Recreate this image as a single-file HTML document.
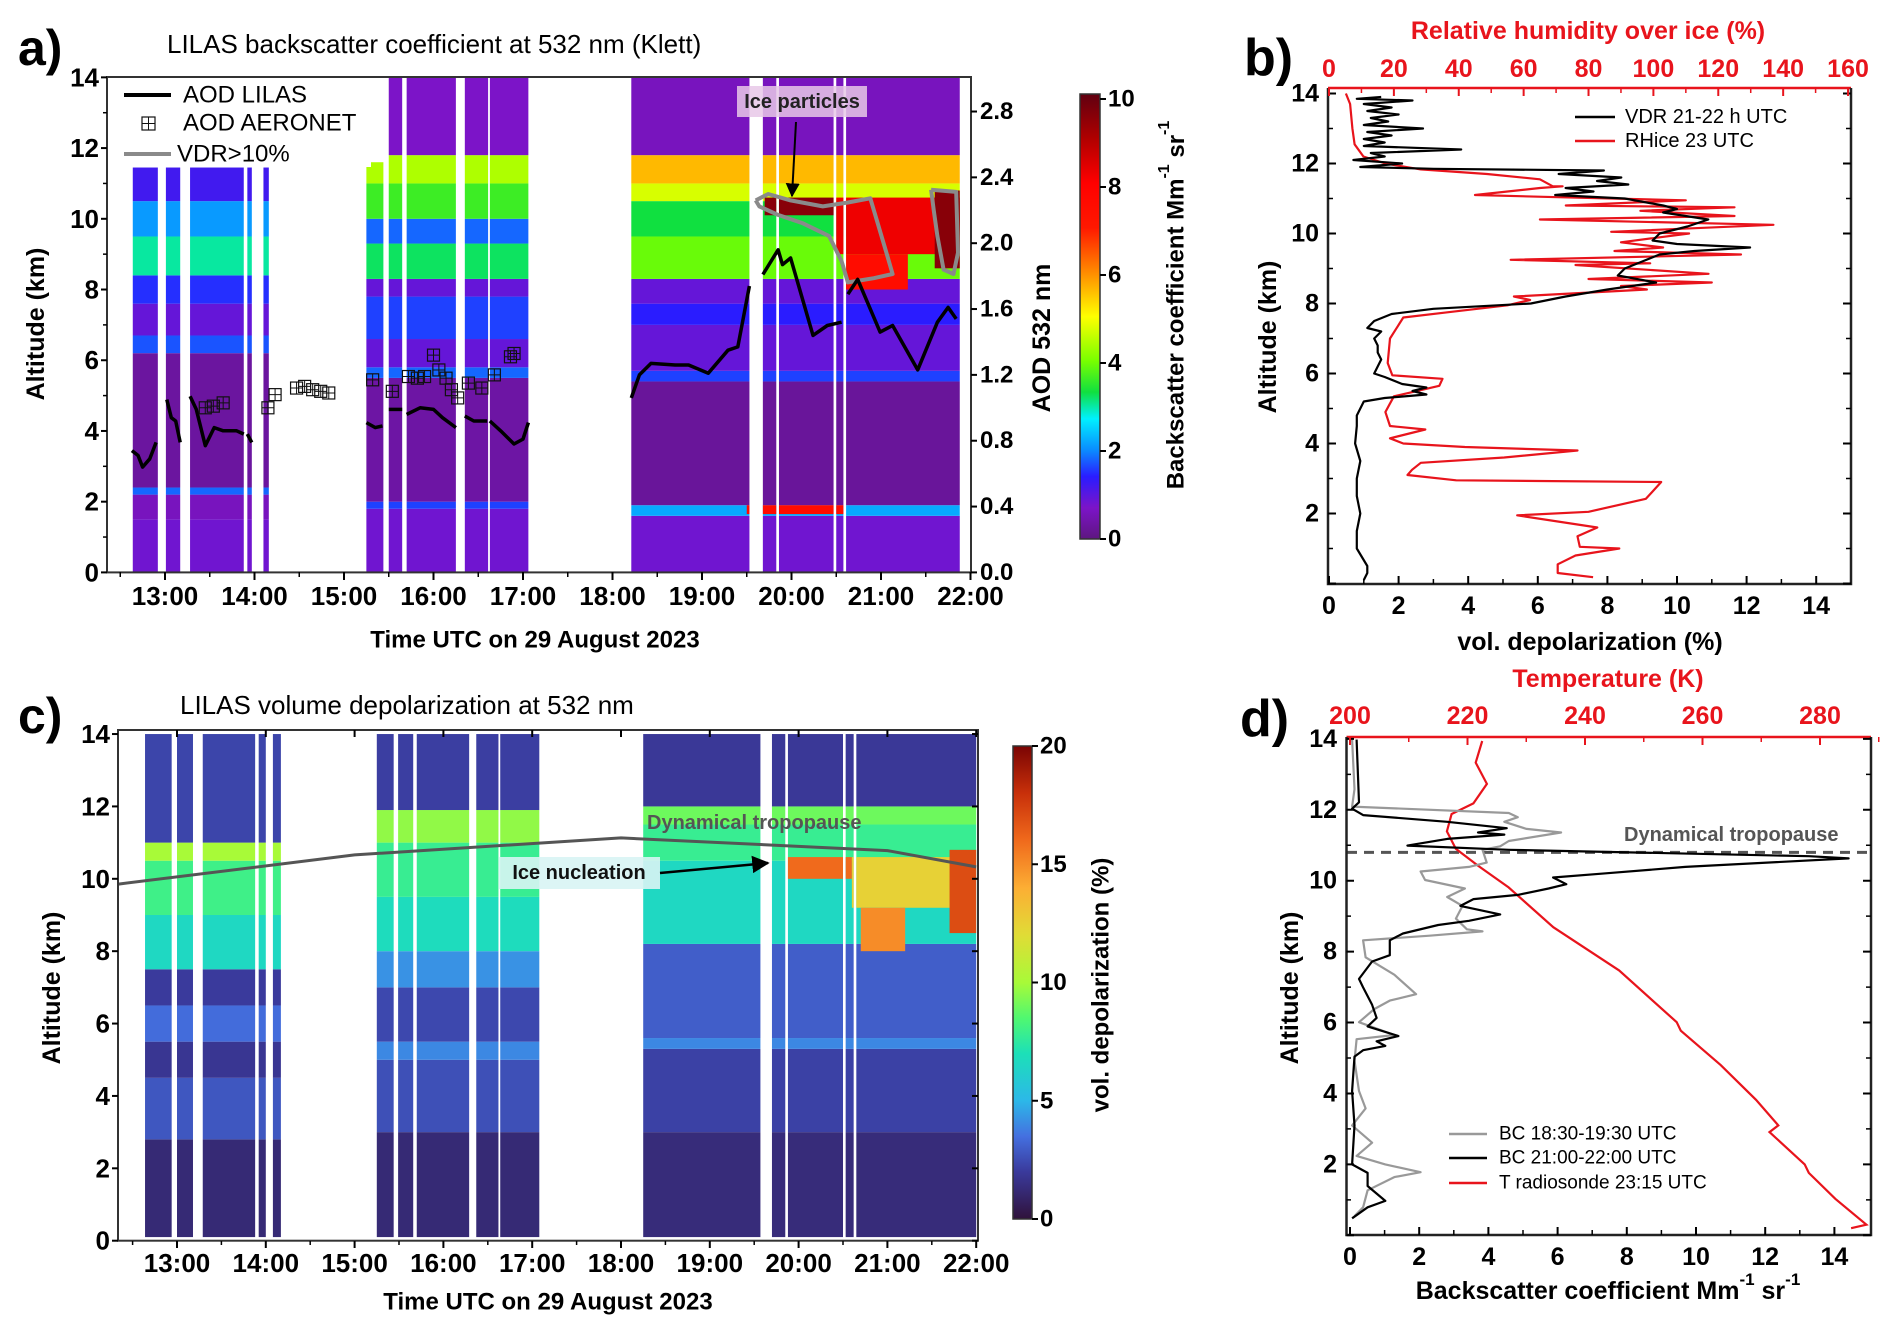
<!DOCTYPE html>
<html><head><meta charset="utf-8"><title>LILAS figure</title>
<style>
html,body{margin:0;padding:0;background:#fff;}
svg{display:block;font-family:"Liberation Sans",Arial,sans-serif;}
</style></head>
<body>
<svg id="fig" width="1892" height="1336" viewBox="0 0 1892 1336" xmlns="http://www.w3.org/2000/svg">
<defs>
<linearGradient id="cmapA" x1="0" y1="1" x2="0" y2="0"></linearGradient>
<linearGradient id="cmapC" x1="0" y1="1" x2="0" y2="0"></linearGradient>
<marker id="arrow" viewBox="0 0 10 10" refX="9" refY="5" markerWidth="7" markerHeight="7" orient="auto"><path d="M0,0 L10,5 L0,10 z" fill="#000"/></marker>
</defs>
</svg>
<script>
// ================= DATA =================
const cmapAStops = [[0,'#5e1680'],[0.7,'#7c14c8'],[1.4,'#2a1cff'],[2,'#0a8cff'],[2.7,'#00f0ff'],[3.3,'#10e040'],[4,'#78ff00'],[5,'#ffff00'],[6,'#ff8a00'],[7,'#ff1800'],[8,'#ff0000'],[9,'#b00000'],[10,'#600010']];
const cmapCStops = [[0,'#30123b'],[2,'#3a3a9c'],[3.5,'#4470e0'],[5,'#2cb8e8'],[7,'#1ce0b8'],[8.5,'#50f870'],[10,'#a8fa38'],[12,'#e0dc36'],[14,'#fcae34'],[16,'#f06a1c'],[18,'#c8300a'],[20,'#7a0403']];

const segmentsA = [[12.64,12.92,11.45],[13.01,13.17,11.45],[13.28,13.88,11.45],[13.92,13.97,11.45],[14.10,14.16,11.45],[15.25,15.44,11.6],[15.50,15.65,14],[15.70,16.25,14],[16.35,16.61,14],[16.63,17.06,14],[18.21,19.53,14],[19.68,19.83,14],[19.86,20.47,14],[20.50,20.58,14],[20.61,21.88,14]];
const segmentsC = [[12.64,12.94,14],[13.0,13.18,14],[13.29,13.88,14],[13.92,14.0,14],[14.08,14.17,14],[15.25,15.44,14],[15.49,15.66,14],[15.70,16.29,14],[16.37,16.62,14],[16.64,17.08,14],[18.25,19.57,14],[19.70,19.85,14],[19.88,20.50,14],[20.53,20.62,14],[20.65,22.0,14]];
const periodIdx = [0,0,0,0,0,1,1,1,1,1,2,2,2,2,2];

const layersA_early = [[0,1.5,0.8],[1.5,2.2,0.6],[2.2,2.4,1.8],[2.4,6.2,0.3],[6.2,6.7,1.7],[6.7,7.6,0.9],[7.6,8.4,1.5],[8.4,9.5,3.0],[9.5,10.5,2.1],[10.5,11.5,1.2]];
const layersA_mid = [[0,1.8,0.8],[1.8,2.0,1.6],[2.0,5.5,0.35],[5.5,5.8,1.8],[5.8,6.6,0.9],[6.6,7.8,1.6],[7.8,8.3,0.9],[8.3,9.3,3.2],[9.3,10.0,1.8],[10.0,11.0,3.6],[11.0,11.8,4.4],[11.8,14,0.7]];
const layersA_late = [[0,1.6,0.8],[1.6,1.9,2.2],[1.9,5.4,0.25],[5.4,5.7,1.6],[5.7,7.0,0.9],[7.0,7.6,1.4],[7.6,8.3,0.9],[8.3,9.5,3.9],[9.5,10.5,3.3],[10.5,11.0,4.7],[11.0,11.8,5.6],[11.8,14,0.6]];
const iceA = [[19.7,20.5,10.1,10.6,9.5],[20.5,21.9,9.0,10.6,8.2],[20.6,21.3,8.0,9.0,7.5],[21.6,21.9,8.6,10.8,9.5],[19.5,20.6,1.65,1.9,7.5]];

const layersC_early = [[0,2.8,1.2],[2.8,4.5,2.8],[4.5,5.5,1.8],[5.5,6.5,3.4],[6.5,7.5,2.0],[7.5,9.0,6.6],[9.0,10.5,8.0],[10.5,11.0,10.0],[11.0,14,2.3]];
const layersC_mid = [[0,3.0,1.2],[3.0,5.0,2.6],[5.0,5.5,4.0],[5.5,7.0,2.4],[7.0,8.0,4.2],[8.0,9.5,6.8],[9.5,11.0,7.8],[11.0,11.9,9.6],[11.9,14,2.1]];
const layersC_late = [[0,3.0,1.3],[3.0,5.3,2.2],[5.3,5.6,4.0],[5.6,8.2,3.0],[8.2,10.5,6.6],[10.5,11.5,7.8],[11.5,12.0,9.0],[12.0,14,1.9]];
const iceC = [[19.85,20.6,10.0,10.6,16],[20.6,21.9,9.2,10.6,12.5],[20.7,21.2,8.0,9.2,15],[21.7,22.0,8.5,10.8,17]];

const aodLilas = [
 [[12.63,0.74],[12.70,0.71],[12.75,0.64],[12.83,0.69],[12.90,0.79]],
 [[13.02,1.05],[13.07,0.94],[13.12,0.92],[13.17,0.79]],
 [[13.28,1.07],[13.35,0.99],[13.45,0.77],[13.55,0.88],[13.65,0.86],[13.80,0.86],[13.88,0.84]],
 [[13.92,0.84],[13.97,0.79]],
 [[15.25,0.91],[15.35,0.88],[15.43,0.89]],
 [[15.50,0.99],[15.65,0.99]],
 [[15.70,0.96],[15.85,1.00],[16.00,0.99],[16.10,0.94],[16.25,0.88]],
 [[16.35,0.95],[16.45,0.92],[16.60,0.92]],
 [[16.63,0.92],[16.75,0.86],[16.90,0.78],[17.00,0.81],[17.06,0.91]],
 [[18.21,1.06],[18.30,1.20],[18.43,1.27],[18.70,1.26],[18.85,1.26],[19.07,1.21],[19.29,1.35],[19.40,1.37],[19.53,1.74]],
 [[19.68,1.81],[19.85,1.96],[19.90,1.87],[19.99,1.91],[20.24,1.44],[20.40,1.50],[20.56,1.52]],
 [[20.63,1.69],[20.74,1.78],[20.99,1.46],[21.13,1.50],[21.41,1.23],[21.63,1.52],[21.75,1.61],[21.84,1.54]]
];
const aeronetTime = [13.45,13.54,13.65,14.15,14.23,14.47,14.56,14.65,14.74,14.83,15.32,15.54,15.72,15.82,15.90,16.00,16.06,16.14,16.20,16.27,16.39,16.54,16.68,16.86,16.90];
const aeronetAOD  = [1.00,1.01,1.03,1.00,1.08,1.12,1.13,1.11,1.10,1.09,1.17,1.10,1.19,1.18,1.19,1.32,1.23,1.18,1.11,1.06,1.15,1.12,1.20,1.31,1.33];
const vdrContour1 = [[19.60,10.52],[19.74,10.70],[19.99,10.52],[20.35,10.35],[20.63,10.46],[20.88,10.58],[20.95,9.99],[21.06,9.04],[21.13,8.44],[20.92,8.32],[20.63,8.20],[20.56,8.80],[20.42,9.51],[20.13,9.87],[19.85,10.11],[19.64,10.35],[19.60,10.52]];
const vdrContour2 = [[21.56,10.82],[21.84,10.76],[21.86,9.04],[21.81,8.44],[21.70,8.56],[21.63,9.51],[21.59,10.23],[21.56,10.82]];
const tropoC = [[12.33,9.85],[15.0,10.66],[18.0,11.13],[21.0,10.78],[22.0,10.33]];

const vdrB = [[13.9,1.5],[13.85,0.8],[13.8,2.4],[13.7,1.0],[13.6,1.8],[13.5,1.1],[13.4,2.0],[13.3,1.2],[13.2,1.7],[13.1,1.0],[13.0,2.7],[12.9,1.1],[12.8,1.8],[12.7,1.0],[12.6,1.6],[12.5,1.0],[12.4,3.8],[12.3,1.2],[12.2,1.6],[12.1,0.7],[12.0,2.1],[11.9,0.9],[11.85,3.0],[11.8,7.9],[11.7,6.6],[11.6,8.4],[11.5,7.7],[11.4,8.6],[11.3,6.8],[11.2,7.6],[11.1,6.5],[11.0,8.5],[10.8,9.6],[10.7,10.0],[10.6,9.6],[10.4,10.9],[10.2,10.3],[10.0,9.5],[9.8,9.3],[9.7,10.0],[9.6,12.1],[9.5,10.5],[9.4,9.5],[9.2,9.0],[9.0,8.5],[8.8,8.3],[8.6,9.4],[8.4,8.0],[8.2,6.8],[8.0,5.8],[7.85,3.0],[7.7,1.8],[7.5,1.3],[7.3,1.1],[7.2,1.5],[7.0,1.3],[6.8,1.4],[6.6,1.4],[6.4,1.5],[6.2,1.4],[6.0,1.3],[5.9,1.6],[5.7,2.1],[5.6,2.8],[5.5,2.4],[5.4,2.8],[5.3,1.6],[5.2,1.0],[5.0,0.9],[4.8,0.8],[4.5,0.8],[4.0,0.75],[3.5,0.9],[3.0,0.8],[2.5,0.8],[2.0,0.9],[1.5,0.8],[1.0,0.8],[0.5,1.1],[0.3,1.1],[0.1,1.0]];
const rhB = [[14.0,5.2],[13.7,6.5],[13.0,7.2],[12.55,7.9],[12.2,10.6],[12.0,17.4],[11.83,28.3],[11.7,48.7],[11.55,65],[11.35,69],[11.35,72],[11.3,65],[11.1,45],[11.05,66],[10.95,110],[10.8,73],[10.75,125],[10.65,96],[10.5,125],[10.4,65],[10.25,137],[10.05,87],[10.0,111],[9.75,90],[9.6,103],[9.5,88],[9.4,127],[9.25,56],[9.15,99],[9.1,76],[8.85,117],[8.7,80],[8.6,118],[8.5,90],[8.4,98],[8.2,57],[8.1,62],[7.95,55],[7.75,36.5],[7.6,22.9],[7.0,18.8],[6.3,18.1],[5.95,19.5],[5.85,35],[5.65,34],[5.35,20],[4.9,17.4],[4.5,18.8],[4.4,29.7],[4.15,18.8],[4.0,22.9],[3.9,41.9],[3.8,76.6],[3.6,54],[3.45,28.3],[3.25,25.6],[3.1,24.2],[2.95,39.2],[2.9,102.4],[2.42,97.7],[2.05,80],[1.95,58],[1.6,82.7],[1.35,76.6],[1.05,77.3],[1.0,89.5],[0.8,76],[0.55,70.5],[0.3,70.5],[0.18,81.4]];
const bcGray = [[0.06,13.98],[0.13,12.58],[0.06,12.09],[4.59,11.91],[4.85,11.79],[4.46,11.66],[5.10,11.46],[6.10,11.36],[4.59,11.12],[4.34,10.97],[3.83,10.87],[3.95,10.51],[3.44,10.39],[2.04,10.26],[2.17,10.02],[3.32,9.78],[2.81,9.54],[3.25,9.29],[3.06,8.93],[3.38,8.63],[3.83,8.57],[2.30,8.45],[0.38,8.32],[0.45,7.84],[1.28,7.35],[1.91,6.80],[1.15,6.62],[0.70,6.38],[0.26,6.01],[1.28,5.65],[0.19,5.53],[0.13,4.92],[0.26,4.07],[0.45,3.58],[0.06,3.10],[0.64,2.61],[0.19,2.24],[1.02,2.00],[2.04,1.78],[1.28,1.64],[0.51,1.27],[0.38,0.79],[0.13,0.54]];
const bcBlack = [[0.19,13.98],[0.26,12.21],[0.06,12.03],[0.38,11.85],[2.81,11.66],[4.53,11.48],[3.70,11.36],[4.46,11.30],[2.81,11.18],[1.66,10.99],[4.59,10.87],[13.27,10.69],[14.41,10.63],[9.69,10.39],[7.40,10.21],[5.87,10.09],[6.25,9.90],[5.74,9.78],[4.85,9.60],[3.57,9.48],[3.19,9.29],[4.34,9.05],[3.44,8.87],[2.55,8.75],[1.53,8.51],[1.15,8.32],[1.15,7.90],[0.64,7.72],[0.26,7.23],[0.38,6.99],[0.64,6.50],[0.77,6.13],[0.51,5.89],[1.40,5.62],[0.77,5.47],[1.02,5.34],[0.38,5.22],[0.13,5.04],[0.06,4.07],[0.13,3.10],[0.06,2.00],[0.51,1.76],[0.51,1.39],[1.02,0.97],[0.51,0.79],[0.06,0.48]];
const tempD = [[222.5,13.94],[221.4,13.33],[223.3,12.73],[221.0,12.18],[217.3,11.88],[216.5,11.39],[218.0,10.90],[221.8,10.42],[227.0,9.81],[234.6,8.69],[245.8,7.47],[255.6,6.01],[256.3,5.77],[263.1,4.80],[269.1,3.82],[272.9,3.10],[271.4,2.91],[277.4,2.00],[278.1,1.76],[282.6,1.03],[287.9,0.30],[285.3,0.20]];
const tropoD = 10.8;

const altTicks = [0,2,4,6,8,10,12,14];
const timeTicks = [13,14,15,16,17,18,19,20,21,22];
const aodTicks = [0,0.4,0.8,1.2,1.6,2.0,2.4,2.8];
const cbATicks = [0,2,4,6,8,10];
const cbCTicks = [0,5,10,15,20];
const depolTicks = [0,2,4,6,8,10,12,14];
const rhTicks = [0,20,40,60,80,100,120,140,160];
const bcTicks = [0,2,4,6,8,10,12,14];
const tTicks = [200,220,240,260,280];

// ================= AXES =================
const xa = h => 165 + (h-13)*89.5, ya = a => 572.4 - a*35.36, yaod = v => 572.4 - v*164.6;
const xc = h => 177 + (h-13)*88.8, yc = a => 1240.7 - a*36.19;
const xb = d => 1329 + d*34.8, xrh = r => 1329 + r*3.244, yb = a => 583.5 - a*35.0;
const xd = v => 1350 + v*34.6, xT = t => 1350 + (t-200)*5.875, yd = a => 1235.3 - a*35.46;
const cbAy = v => 539 - v*44.0, cbCy = v => 1219 - v*23.65;

const NS = 'http://www.w3.org/2000/svg';
const svg = document.getElementById('fig');
function mk(tag, attrs, parent){ const e = document.createElementNS(NS, tag); for (const k in attrs) e.setAttribute(k, attrs[k]); (parent||svg).appendChild(e); return e; }
function txt(s, x, y, opt, parent){ const e = mk('text', Object.assign({x:x, y:y, 'dominant-baseline':'central'}, opt||{}), parent); e.textContent = s; return e; }
function hex2rgb(h){ return [parseInt(h.substr(1,2),16),parseInt(h.substr(3,2),16),parseInt(h.substr(5,2),16)]; }
function cmap(stops, v){ if (v<=stops[0][0]) return stops[0][1]; for (let i=1;i<stops.length;i++){ if (v<=stops[i][0]){ const t=(v-stops[i-1][0])/(stops[i][0]-stops[i-1][0]); const a=hex2rgb(stops[i-1][1]), b=hex2rgb(stops[i][1]); return 'rgb('+a.map((c,j)=>Math.round(c+(b[j]-c)*t)).join(',')+')'; } } return stops[stops.length-1][1]; }
function pathFrom(pts){ return pts.map((p,i)=>(i?'L':'M')+p[0].toFixed(1)+','+p[1].toFixed(1)).join(' '); }

[['cmapA',cmapAStops,10],['cmapC',cmapCStops,20]].forEach(g=>{ const lg=document.getElementById(g[0]); g[1].forEach(s=>{ const st=document.createElementNS(NS,'stop'); st.setAttribute('offset',(s[0]/g[2]*100)+'%'); st.setAttribute('stop-color',s[1]); lg.appendChild(st); }); });

// ================= PANEL A =================
const gA = mk('g', {});  
const heatA = mk('g', {}, gA);  
const layersA = [layersA_early, layersA_mid, layersA_late];
segmentsA.forEach((s,i)=>{ layersA[periodIdx[i]].forEach(L=>{ if (L[0] >= s[2]) return; const top=Math.min(L[1],s[2]);
  const r = mk('rect',{x:xa(s[0]),y:ya(top),width:xa(s[1])-xa(s[0]),height:ya(L[0])-ya(top),fill:cmap(cmapAStops,L[2])},heatA);
    }); });
iceA.forEach(c=>{ segmentsA.forEach(s=>{ const t0=Math.max(c[0],s[0]), t1=Math.min(c[1],s[1]); if (t1<=t0) return;
  const r = mk('rect',{x:xa(t0),y:ya(c[3]),width:xa(t1)-xa(t0),height:ya(c[2])-ya(c[3]),fill:cmap(cmapAStops,c[4])},heatA);
    }); });
[vdrContour1,vdrContour2].forEach(c=>{ const p = mk('path',{d:pathFrom(c.map(q=>[xa(q[0]),ya(q[1])])),fill:'none',stroke:'#8a8a8a','stroke-width':4,'stroke-linejoin':'round'},gA);
    });
aodLilas.forEach(seg=>{ const p = mk('path',{d:pathFrom(seg.map(q=>[xa(q[0]),yaod(q[1])])),fill:'none',stroke:'#000','stroke-width':3.5,'stroke-linejoin':'round'},gA);
    });
aeronetTime.forEach((t,i)=>{ const x=xa(t), y=yaod(aeronetAOD[i]); const g=mk('g',{},gA);
   
  mk('rect',{x:x-6,y:y-6,width:12,height:12,fill:'none',stroke:'#111','stroke-width':1.2},g);
  mk('path',{d:`M${x-6},${y}H${x+6}M${x},${y-6}V${y+6}`,stroke:'#111','stroke-width':1},g); });
const legA = mk('g',{},gA);  
mk('rect',{x:108,y:78,width:263,height:89,fill:'#fff'},legA);
mk('path',{d:'M124,95H171',stroke:'#000','stroke-width':4},legA); txt('AOD LILAS',183,95,{'font-size':24},legA);
mk('rect',{x:142,y:117,width:13,height:13,fill:'none',stroke:'#111','stroke-width':1.2},legA); mk('path',{d:'M142,123.5H155M148.5,117V130',stroke:'#111','stroke-width':1},legA);
txt('AOD AERONET',183,123,{'font-size':24},legA);
mk('path',{d:'M124,154H171',stroke:'#8a8a8a','stroke-width':4},legA); txt('VDR>10%',177,154,{'font-size':24},legA);
const ipl = mk('g',{},gA);  
mk('rect',{x:737,y:86,width:130,height:31,fill:'#e8c8e8','fill-opacity':0.85},ipl);
txt('Ice particles',802,102,{'font-size':20,'font-weight':'bold','text-anchor':'middle',fill:'#222'},ipl);
mk('path',{d:'M796,122 L792,196',stroke:'#000','stroke-width':2,'marker-end':'url(#arrow)'},ipl);
mk('rect',{x:107,y:77,width:864,height:495.4,fill:'none',stroke:'#333','stroke-width':2},gA);
altTicks.forEach(a=>{ mk('path',{d:`M101,${ya(a)}H107`,stroke:'#000','stroke-width':2},gA); const t=txt(String(a),99,ya(a),{'font-size':26,'font-weight':'bold','text-anchor':'end'},gA);  
  if (a<14) mk('path',{d:`M103,${ya(a+1)}H107`,stroke:'#000','stroke-width':1.5},gA); });
timeTicks.forEach(h=>{ mk('path',{d:`M${xa(h)},572V580`,stroke:'#000','stroke-width':2},gA); mk('path',{d:`M${xa(h-0.5)},572V577`,stroke:'#000','stroke-width':1.5},gA);
  const t=txt((h)+':00',xa(h),596,{'font-size':26,'font-weight':'bold','text-anchor':'middle'},gA);   });
aodTicks.forEach(v=>{ mk('path',{d:`M971,${yaod(v)}H977`,stroke:'#000','stroke-width':2},gA); const t=txt(v.toFixed(1),980,yaod(v),{'font-size':24,'font-weight':'bold'},gA);   });
let t;
t=txt('a)',18,48,{'font-size':50,'font-weight':'bold'});  
t=txt('LILAS backscatter coefficient at 532 nm (Klett)',167,44,{'font-size':26});  
t=txt('Time UTC on 29 August 2023',535,640,{'font-size':24,'font-weight':'bold','text-anchor':'middle'});  
t=txt('Altitude (km)',0,0,{'font-size':25,'font-weight':'bold','text-anchor':'middle',transform:'translate(36,324) rotate(-90)'});  
t=txt('AOD 532 nm',0,0,{'font-size':25,'font-weight':'bold','text-anchor':'middle',transform:'translate(1042,338) rotate(-90)'});  
const cbA = mk('g',{});  
mk('rect',{x:1080,y:94,width:20,height:445,fill:'url(#cmapA)',stroke:'#333','stroke-width':1.5},cbA);
cbATicks.forEach(v=>{ mk('path',{d:`M1100,${cbAy(v)}H1106`,stroke:'#000','stroke-width':2},cbA); txt(String(v),1108,cbAy(v),{'font-size':24,'font-weight':'bold'},cbA); });
t=mk('text',{'font-size':24,'font-weight':'bold','text-anchor':'middle','dominant-baseline':'central',transform:'translate(1176,305) rotate(-90)'},cbA);
t.innerHTML='Backscatter coefficient Mm<tspan font-size="16" dy="-12">-1</tspan><tspan dy="12"> sr</tspan><tspan font-size="16" dy="-12">-1</tspan>';
 

// ================= PANEL C =================
const gC = mk('g',{});  
const heatC = mk('g',{},gC);  
const layersC = [layersC_early, layersC_mid, layersC_late];
segmentsC.forEach((s,i)=>{ layersC[periodIdx[i]].forEach(L=>{ const bot=Math.max(L[0],0.1);
  const r = mk('rect',{x:xc(s[0]),y:yc(L[1]),width:xc(s[1])-xc(s[0]),height:yc(bot)-yc(L[1]),fill:cmap(cmapCStops,L[2])},heatC);
    }); });
iceC.forEach(c=>{ segmentsC.forEach(s=>{ const t0=Math.max(c[0],s[0]), t1=Math.min(c[1],s[1]); if (t1<=t0) return;
  const r = mk('rect',{x:xc(t0),y:yc(c[3]),width:xc(t1)-xc(t0),height:yc(c[2])-yc(c[3]),fill:cmap(cmapCStops,c[4])},heatC);
    }); });
const trC = mk('path',{d:pathFrom(tropoC.map(q=>[xc(q[0]),yc(q[1])])),fill:'none',stroke:'#555','stroke-width':3},gC);
 
t=txt('Dynamical tropopause',647,823,{'font-size':20,'font-weight':'bold',fill:'#555'},gC);  
const inl = mk('g',{},gC);  
mk('rect',{x:499,y:857,width:161,height:32,fill:'#d8f4f4','fill-opacity':0.9},inl);
txt('Ice nucleation',579,873,{'font-size':20,'font-weight':'bold','text-anchor':'middle',fill:'#111'},inl);
mk('path',{d:'M660,873 L768,863',stroke:'#000','stroke-width':2.5,'marker-end':'url(#arrow)'},inl);
mk('rect',{x:118,y:730,width:860,height:510.7,fill:'none',stroke:'#333','stroke-width':2},gC);
altTicks.forEach(a=>{ mk('path',{d:`M112,${yc(a)}H118`,stroke:'#000','stroke-width':2},gC); mk('path',{d:`M972,${yc(a)}H978`,stroke:'#000','stroke-width':2},gC);
  t=txt(String(a),110,yc(a),{'font-size':26,'font-weight':'bold','text-anchor':'end'},gC);   });
timeTicks.forEach(h=>{ mk('path',{d:`M${xc(h)},1241V1248`,stroke:'#000','stroke-width':2},gC); mk('path',{d:`M${xc(h)},730V737`,stroke:'#000','stroke-width':2},gC); mk('path',{d:`M${xc(h-0.5)},1241V1245`,stroke:'#000','stroke-width':1.5},gC);
  t=txt(h+':00',xc(h),1263,{'font-size':26,'font-weight':'bold','text-anchor':'middle'},gC);   });
t=txt('c)',18,716,{'font-size':50,'font-weight':'bold'});  
t=txt('LILAS volume depolarization at 532 nm',180,705,{'font-size':26});  
t=txt('Time UTC on 29 August 2023',548,1302,{'font-size':24,'font-weight':'bold','text-anchor':'middle'});  
t=txt('Altitude (km)',0,0,{'font-size':25,'font-weight':'bold','text-anchor':'middle',transform:'translate(52,988) rotate(-90)'});  
const cbC = mk('g',{});  
mk('rect',{x:1013,y:746,width:19,height:473,fill:'url(#cmapC)',stroke:'#333','stroke-width':1.5},cbC);
cbCTicks.forEach(v=>{ mk('path',{d:`M1032,${cbCy(v)}H1038`,stroke:'#000','stroke-width':2},cbC); txt(String(v),1040,cbCy(v),{'font-size':24,'font-weight':'bold'},cbC); });
t=txt('vol. depolarization (%)',0,0,{'font-size':24,'font-weight':'bold','text-anchor':'middle',transform:'translate(1101,985) rotate(-90)'},cbC);  

// ================= PANEL B =================
const gB = mk('g',{});  
const rhL = mk('path',{d:pathFrom(rhB.map(q=>[xrh(q[1]),yb(q[0])])),fill:'none',stroke:'#e8141c','stroke-width':2.2,'stroke-linejoin':'round'},gB);
 
const vdrL = mk('path',{d:pathFrom(vdrB.map(q=>[xb(q[1]),yb(q[0])])),fill:'none',stroke:'#000','stroke-width':2.2,'stroke-linejoin':'round'},gB);
 
mk('path',{d:'M1328,88H1851',stroke:'#e8141c','stroke-width':2.5},gB);
mk('path',{d:'M1328,88V584H1851V88',fill:'none',stroke:'#222','stroke-width':2.5},gB);
altTicks.forEach(a=>{ mk('path',{d:`M1328,${yb(a)}H1336M1851,${yb(a)}H1843`,stroke:'#000','stroke-width':2},gB); if(a<14) mk('path',{d:`M1328,${yb(a+1)}H1333M1851,${yb(a+1)}H1846`,stroke:'#000','stroke-width':1.5},gB);
  if (a>0){ t=txt(String(a),1319,yb(a),{'font-size':25,'font-weight':'bold','text-anchor':'end'},gB);   } });
depolTicks.forEach(d=>{ mk('path',{d:`M${xb(d)},584V576`,stroke:'#000','stroke-width':2},gB); if(d<14) mk('path',{d:`M${xb(d+1)},584V579`,stroke:'#000','stroke-width':1.5},gB);
  t=txt(String(d),xb(d),606,{'font-size':25,'font-weight':'bold','text-anchor':'middle'},gB);   });
rhTicks.forEach(r=>{ mk('path',{d:`M${xrh(r)},88V96`,stroke:'#e8141c','stroke-width':2},gB); if(r<160) mk('path',{d:`M${xrh(r+10)},88V93`,stroke:'#e8141c','stroke-width':1.5},gB);
  t=txt(String(r),xrh(r),69,{'font-size':25,'font-weight':'bold','text-anchor':'middle',fill:'#e8141c'},gB);   });
t=txt('b)',1244,58,{'font-size':52,'font-weight':'bold'});  
t=txt('Relative humidity over ice (%)',1588,31,{'font-size':25,'font-weight':'bold','text-anchor':'middle',fill:'#e8141c'},gB);  
t=txt('vol. depolarization (%)',1590,642,{'font-size':25,'font-weight':'bold','text-anchor':'middle'},gB);  
t=txt('Altitude (km)',0,0,{'font-size':25,'font-weight':'bold','text-anchor':'middle',transform:'translate(1268,337) rotate(-90)'},gB);  
const legB = mk('g',{},gB);  
mk('path',{d:'M1575,117H1615',stroke:'#000','stroke-width':2.5},legB); txt('VDR 21-22 h UTC',1625,117,{'font-size':20},legB);
mk('path',{d:'M1575,141H1615',stroke:'#e8141c','stroke-width':2.5},legB); txt('RHice 23 UTC',1625,141,{'font-size':20},legB);

// ================= PANEL D =================
const gD = mk('g',{});  
const trD = mk('path',{d:`M1347,${yd(tropoD)}H1871`,stroke:'#555','stroke-width':3,'stroke-dasharray':'10,7'},gD);
 
const tL = mk('path',{d:pathFrom(tempD.map(q=>[xT(q[0]),yd(q[1])])),fill:'none',stroke:'#e8141c','stroke-width':2.2},gD);
 
const gL = mk('path',{d:pathFrom(bcGray.map(q=>[xd(q[0]),yd(q[1])])),fill:'none',stroke:'#999','stroke-width':2.2,'stroke-linejoin':'round'},gD);
 
const bL = mk('path',{d:pathFrom(bcBlack.map(q=>[xd(q[0]),yd(q[1])])),fill:'none',stroke:'#000','stroke-width':2.2,'stroke-linejoin':'round'},gD);
 
t=txt('Dynamical tropopause',1624,835,{'font-size':20,'font-weight':'bold',fill:'#555'},gD);  
mk('path',{d:'M1346.5,737H1871',stroke:'#e8141c','stroke-width':2.5},gD);
mk('path',{d:'M1346.5,737V1235H1871V737',fill:'none',stroke:'#222','stroke-width':2.5},gD);
altTicks.forEach(a=>{ mk('path',{d:`M1346.5,${yd(a)}H1354M1871,${yd(a)}H1863`,stroke:'#000','stroke-width':2},gD); if(a<14) mk('path',{d:`M1346.5,${yd(a+1)}H1351M1871,${yd(a+1)}H1866`,stroke:'#000','stroke-width':1.5},gD);
  if (a>0){ t=txt(String(a),1337,yd(a),{'font-size':25,'font-weight':'bold','text-anchor':'end'},gD);   } });
bcTicks.forEach(v=>{ mk('path',{d:`M${xd(v)},1235V1227`,stroke:'#000','stroke-width':2},gD); if(v<14) mk('path',{d:`M${xd(v+1)},1235V1230`,stroke:'#000','stroke-width':1.5},gD);
  t=txt(String(v),xd(v),1257,{'font-size':25,'font-weight':'bold','text-anchor':'middle'},gD);   });
tTicks.forEach(v=>{ mk('path',{d:`M${xT(v)},737V745`,stroke:'#e8141c','stroke-width':2},gD); mk('path',{d:`M${xT(v+10)},737V742`,stroke:'#e8141c','stroke-width':1.5},gD);
  t=txt(String(v),xT(v),716,{'font-size':25,'font-weight':'bold','text-anchor':'middle',fill:'#e8141c'},gD);   });
t=txt('d)',1240,719,{'font-size':52,'font-weight':'bold'});  
t=txt('Temperature (K)',1608,679,{'font-size':25,'font-weight':'bold','text-anchor':'middle',fill:'#e8141c'},gD);  
t=mk('text',{x:1608,y:1291,'font-size':25,'font-weight':'bold','text-anchor':'middle','dominant-baseline':'central'},gD);
t.innerHTML='Backscatter coefficient Mm<tspan font-size="17" dy="-12">-1</tspan><tspan dy="12"> sr</tspan><tspan font-size="17" dy="-12">-1</tspan>';
 
t=txt('Altitude (km)',0,0,{'font-size':25,'font-weight':'bold','text-anchor':'middle',transform:'translate(1290,988) rotate(-90)'},gD);  
const legD = mk('g',{},gD);  
mk('path',{d:'M1449,1134H1487',stroke:'#999','stroke-width':2.5},legD); txt('BC 18:30-19:30  UTC',1499,1134,{'font-size':19},legD);
mk('path',{d:'M1449,1158H1487',stroke:'#000','stroke-width':2.5},legD); txt('BC 21:00-22:00 UTC',1499,1158,{'font-size':19},legD);
mk('path',{d:'M1449,1183H1487',stroke:'#e8141c','stroke-width':2.5},legD); txt('T radiosonde 23:15 UTC',1499,1183,{'font-size':19},legD);
</script>
</body></html>
